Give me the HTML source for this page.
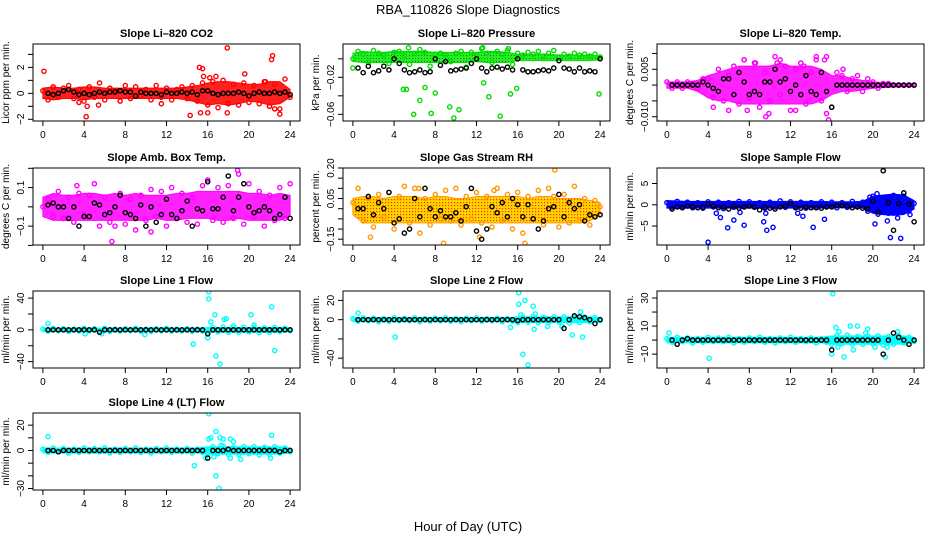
<!DOCTYPE html>
<html><head><meta charset="utf-8">
<style>
html,body{margin:0;padding:0;background:#fff;}
svg{display:block;font-family:"Liberation Sans",sans-serif;}
</style></head>
<body>
<svg id="chart" width="936" height="540" viewBox="0 0 936 540" xmlns="http://www.w3.org/2000/svg">
<defs>
<pattern id="pgreen" width="3" height="3" patternUnits="userSpaceOnUse"><rect width="3" height="3" fill="#22ee22"/><rect x="1" y="1" width="1" height="1" fill="#227722"/></pattern>
<pattern id="pyellow" width="3" height="3" patternUnits="userSpaceOnUse"><rect width="3" height="3" fill="#ffd400"/><rect x="1" y="1" width="1.2" height="1.2" fill="#ff3300"/></pattern>
</defs>
<text x="468" y="14" text-anchor="middle" font-size="13">RBA_110826  Slope Diagnostics</text>
<text x="468" y="531" text-anchor="middle" font-size="13">Hour of Day (UTC)</text>
</svg>
<script>
// ---------- data ----------
const hourTicks = [0,4,8,12,16,20,24];
const bandHours = [0,1,2,3,4,5,6,7,8,9,10,11,12,13,14,15,16,17,18,19,20,21,22,23,24];

const p1Black = [0,-0.1,0,0.2,0.3,0.1,-0.1,0,-0.1,0,0.1,0,0.1,0.1,0.2,0.1,0.1,-0.2,0.1,0,0,0,-0.1,0.1,0,0,0.1,0,0.1,-0.1,0.2,0.2,0,-0.1,0,0,0,0.1,0,-0.2,0,0.1,0,0,0.1,0,0.1,-0.1];
const p1Col = [0.2,-0.5,0.5,-0.3,0.4,0.6,-0.4,0.3,-0.6,0.5,-0.3,0.8,-0.5,0.4,0.2,-0.6,0.6,-0.4,0.5,-0.2,0.3,-0.5,0.6,-0.3,0.4,-0.5,0.3,0.5,-0.4,0.6,-0.6,0.8,-0.9,0.9,-1.1,1.0,-0.8,0.7,-0.9,0.8,-0.7,0.6,-0.8,0.9,-1.0,0.7,-1.2,1.1,-0.3];
const p1Hi = [0.4,0.5,0.4,0.4,0.5,0.5,0.4,0.4,0.4,0.4,0.4,0.4,0.4,0.4,0.5,0.6,0.8,0.9,0.9,0.8,0.7,0.7,0.9,0.9,0.3];
const p1Lo = [-0.4,-0.5,-0.4,-0.4,-0.5,-0.4,-0.4,-0.4,-0.4,-0.4,-0.4,-0.4,-0.4,-0.4,-0.5,-0.7,-0.9,-0.8,-0.9,-0.8,-0.6,-0.7,-0.9,-0.8,-0.3];
const p1OutX = [0.1,4.2,4.3,14.3,15.2,15.5,15.6,17.9,22.3,22.2,23,17.9,16,15.3,19.6,16.2,16.8,21.6,3.5,5.4,11.5,22,22.5];
const p1OutY = [1.7,-1.8,-1,-1.7,2,1.9,1.3,3.5,2.9,2.6,-1.6,-1.5,-1.5,-1.5,1.5,1.2,1.3,0.9,-0.7,-0.9,-0.8,-1,-1.2];

const p2Black = [-0.01,-0.015,-0.008,-0.015,-0.013,-0.008,-0.012,0,-0.005,-0.012,-0.015,-0.014,-0.012,-0.015,-0.014,0,-0.007,-0.003,-0.013,-0.012,-0.011,-0.01,-0.005,0,-0.01,-0.014,-0.01,-0.009,-0.011,-0.009,-0.012,0,-0.012,-0.014,-0.014,-0.013,-0.012,-0.013,-0.01,-0.002,-0.01,-0.011,-0.014,-0.01,-0.014,-0.013,-0.014,0];
const p2Col = [0,0.008,0.005,-0.004,0.009,0.006,0.004,-0.005,0.007,0.008,0.003,-0.006,0.006,0.01,0.007,-0.008,0.005,0.006,0.004,-0.003,0.006,0.008,-0.009,0.007,0.004,0.011,0.006,-0.004,0.008,0.005,0.009,-0.006,0.006,0.004,0.007,0.005,0.008,0.003,0.006,0.009,0.002,0.005,0.003,0.006,0.004,0.005,0.003,0.005,0.002];
const p2Hi = [0.006,0.008,0.007,0.007,0.008,0.008,0.008,0.008,0.007,0.007,0.007,0.007,0.007,0.008,0.008,0.007,0.005,0.005,0.005,0.005,0.004,0.004,0.004,0.004,0.003];
const p2Lo = [-0.003,-0.004,-0.004,-0.004,-0.004,-0.004,-0.004,-0.004,-0.004,-0.004,-0.004,-0.004,-0.003,-0.004,-0.004,-0.004,-0.002,-0.002,-0.002,-0.002,-0.002,-0.002,-0.002,-0.002,-0.001];
const p2OutX = [4.9,5.2,6.5,5.9,7,8,7.6,9.4,9.8,10.3,12.7,13.2,14.3,15.3,15.9,23.9,0,5.4,12.6,15.1];
const p2OutY = [-0.033,-0.033,-0.045,-0.06,-0.031,-0.037,-0.059,-0.052,-0.064,-0.055,-0.026,-0.041,-0.062,-0.038,-0.032,-0.038,-0.01,0.012,0.012,0.011];

const p3Black = [0,0,0,0,0,0,0.001,0,-0.001,-0.002,0.002,0.002,-0.003,0.004,0.001,-0.003,-0.002,-0.003,0.001,0.001,0.005,0.001,0.002,-0.002,0,-0.003,0.003,-0.002,-0.003,0.004,-0.002,-0.007,0,0,0,0,0,0,0,0,0,0,0,0,0,0,0,0];
const p3Col = [0.001,-0.001,0.001,-0.001,0.001,0.0005,-0.001,0.002,0.002,-0.004,0.005,-0.005,0.003,0.006,-0.006,0.008,-0.004,0.007,-0.007,0.004,-0.005,0.009,-0.003,0.006,-0.008,0.005,0.007,-0.006,0.004,0.008,-0.005,0.009,-0.007,0.004,0.003,-0.002,0.002,0.003,-0.002,0.002,0.001,-0.001,0.0005,0.0005,0,0,0,0,0];
const p3Hi = [0.001,0.001,0.001,0.0015,0.003,0.004,0.005,0.006,0.006,0.006,0.006,0.007,0.006,0.006,0.006,0.005,0.003,0.003,0.002,0.0015,0.001,0.0008,0.0006,0.0005,0.0004];
const p3Lo = [-0.001,-0.001,-0.001,-0.002,-0.004,-0.005,-0.005,-0.006,-0.006,-0.006,-0.006,-0.006,-0.006,-0.006,-0.006,-0.005,-0.003,-0.002,-0.002,-0.0015,-0.001,-0.0008,-0.0006,-0.0005,-0.0004];
const p3OutX = [7.5,8.6,10.7,11,14.5,15.3,13.3,15.5,15.7,9.6,9.9,4.5,6,7.8,12.5,17.1];
const p3OutY = [0.008,0.007,0.007,0.008,0.009,0.008,0.006,-0.009,-0.011,-0.01,-0.009,-0.007,-0.008,-0.008,-0.008,0.005];

const p4Black = [0.01,0.02,0,0,-0.06,0,-0.1,-0.05,-0.05,0.02,0.01,-0.04,-0.03,0,0.06,-0.03,-0.04,-0.06,0.01,-0.1,0,-0.08,-0.04,0.04,-0.04,-0.06,-0.02,0.03,-0.1,-0.01,-0.02,0.13,-0.01,-0.01,0.05,0.16,-0.02,0.05,0.12,0,-0.03,-0.02,0,-0.02,-0.06,-0.04,0.05,-0.06];
const p4Col = [0,0.04,-0.05,0.08,-0.06,0.05,-0.08,0.07,-0.04,0.06,0.12,-0.1,0.05,-0.08,-0.1,0.07,-0.09,0.04,-0.12,0.06,-0.07,0.09,-0.05,0.08,-0.1,0.1,-0.06,0.07,-0.08,0.05,-0.09,0.11,0.14,-0.07,0.1,-0.08,0.11,-0.06,0.17,-0.09,0.12,-0.05,0.08,-0.1,0.06,-0.07,0.1,-0.06,0.12];
const p4Hi = [0.05,0.07,0.06,0.06,0.07,0.07,0.06,0.07,0.06,0.07,0.06,0.06,0.06,0.07,0.07,0.08,0.08,0.08,0.08,0.08,0.07,0.07,0.06,0.07,0.06];
const p4Lo = [-0.05,-0.07,-0.07,-0.07,-0.07,-0.07,-0.07,-0.07,-0.07,-0.07,-0.07,-0.06,-0.07,-0.07,-0.06,-0.06,-0.06,-0.07,-0.07,-0.06,-0.07,-0.07,-0.07,-0.07,-0.05];
const p4OutX = [6.7,18.9,10.5,3.3];
const p4OutY = [-0.18,0.19,-0.13,0.11];

const p5Black = [0,0,0.06,-0.03,0.03,0,0.08,-0.07,-0.05,-0.12,-0.1,0.05,-0.04,0.1,0,-0.04,-0.01,-0.04,-0.04,-0.02,-0.06,0.01,0.1,-0.11,-0.15,-0.1,0.01,-0.02,0.03,-0.04,0.05,0.02,-0.04,0.02,-0.05,-0.1,-0.06,0,0.01,0.07,-0.04,0.03,0,0.02,-0.06,-0.03,-0.04,-0.03];
const p5Col = [0.03,0.1,-0.06,0.05,-0.09,0.07,-0.04,0.08,-0.1,0.06,0.11,-0.07,0.1,-0.12,0.05,-0.08,0.07,-0.05,0.09,-0.06,0.1,-0.08,0.06,-0.05,0.08,-0.07,0.06,-0.09,0.1,-0.06,0.07,-0.1,0.08,-0.12,0.06,-0.05,0.09,-0.08,0.1,0.06,-0.09,0.07,-0.07,0.11,-0.06,0.05,-0.08,0.04,0.01];
const p5Hi = [0.05,0.06,0.06,0.05,0.06,0.06,0.06,0.05,0.06,0.06,0.05,0.05,0.06,0.06,0.06,0.06,0.06,0.05,0.06,0.06,0.05,0.05,0.05,0.04,0.03];
const p5Lo = [-0.03,-0.07,-0.07,-0.07,-0.07,-0.07,-0.07,-0.07,-0.07,-0.07,-0.07,-0.07,-0.07,-0.07,-0.07,-0.07,-0.07,-0.07,-0.07,-0.07,-0.07,-0.07,-0.07,-0.06,-0.03];
const p5OutX = [1.7,8.8,16.7,19.6,6.4,13.7,12.3];
const p5OutY = [-0.14,-0.17,-0.17,0.19,0.1,0.09,-0.14];

const p6Black = [-1,-0.5,-0.7,-0.3,-0.5,-0.7,-0.6,0.2,-0.3,-0.7,-0.5,-1,-0.3,-0.8,-0.5,-0.3,-0.5,-1.2,-0.6,-0.8,-1,-0.5,-0.3,0.3,-0.7,-0.8,-0.5,-0.7,-0.7,-0.8,-0.5,-0.5,-0.2,-0.2,-0.3,-0.7,-0.5,-0.8,-1,0.8,-1.7,8,0.5,-6,0.3,2.8,0.1,-4];
const p6Col = [0.5,-0.6,0.8,-0.4,0.6,-0.7,0.5,-0.8,0.7,-0.5,0.6,-0.9,0.5,-0.6,0.8,-0.5,0.7,-0.6,0.5,-0.8,0.6,-0.5,0.9,-0.6,0.7,-0.5,0.6,-0.8,0.5,-0.6,0.7,-0.5,0.6,-0.7,0.5,-0.6,0.8,-0.5,0.6,-1.5,2,-2.2,1.5,-2,2.2,-1.8,2,-1.5,0.3];
const p6Hi = [1,0.9,0.8,0.8,0.8,0.8,0.8,0.8,0.8,0.8,0.8,0.8,0.8,0.8,0.8,0.8,0.7,0.7,0.7,0.8,2,2.3,2.5,2.3,1];
const p6Lo = [-0.8,-0.9,-0.8,-0.8,-0.8,-0.8,-0.8,-0.8,-0.8,-0.8,-0.8,-0.8,-0.8,-0.8,-0.8,-0.8,-0.7,-0.7,-0.7,-0.8,-2,-2.3,-2.5,-2.3,-1];
const p6OutX = [4,4.8,5.2,5.9,6.5,7.5,7.1,9.4,9.7,9.6,10.3,12.7,13.2,14.2,15.3,20.2,20.4,21.4,21.7,22.4,22.7,23.6,19.7];
const p6OutY = [-8.8,-2,-3,-5.4,-3.6,-4.8,-1.8,-4,-6,-2,-5.3,-2,-2.7,-5.3,-3.4,-4.5,2.6,-3.8,-7.7,-3.1,-7.9,-2.3,1.8];

const lineCol = [1,-1.5,2,-1,1.5,-2,1,-1.5,2,-1,1.5,-1,2,-2,1,-1.5,1.5,-1,2,-1.5,1,-2,1.5,-1,2,-1.5,1,-1,1.5,-2,1,-1.5,-3,3,-2.5,3.5,-3,2.5,-3,3,-2.5,3,-3.5,2.5,-3,3,-2,2,-1];
const lineHi = [2,2,2,2,2,2,2,2,2,2,2,2,2,2,2,2,3,3,3,3,3,3,3,3,2];
const lineLo = [-2,-2,-2,-2,-2,-2,-2,-2,-2,-2,-2,-2,-2,-2,-2,-2,-3,-3,-3,-3,-3,-3,-3,-3,-2];

const p7Black = [0,0,0,0,0,0,0,0,0,0,-3,0,0,0,0,0,0,0,0,0,0,0,0,0,0,0,0,0,0,0,0,-5,0,0,0,0,0,0,0,0,0,0,0,0,0,0,0,0];
const p7OutX = [0.5,4.1,5.7,9.9,14.6,16.1,16.1,16.3,16,16.7,16.8,17.2,17.6,17.8,18.5,20.2,20.5,22.2,22.5];
const p7OutY = [8,-5,-5,-6,-18,48,39,10,-10,19,-33,-43,13,14,5,19,6,29,-26];

const p8Black = [0,0,0,0,0,0,0,0,0,0,0,0,0,0,0,0,0,0,0,0,0,0,0,0,0,0,0,0,0,0,0,-1,0,0,0,0,0,0,0,0,-9,0,4,3,2,0,-4,0];
const p8OutX = [0.5,4.1,16.1,16.1,16.3,16.7,16.5,17,17.5,17.7,17.6,15.3,18.9,20.3,21.3,22.3,22.1];
const p8OutY = [7,-18,28,16,5,20,-36,-47,14,6,-10,-8,-7,-7,-16,-18,8];

const p9Black = [0,-3,0,1,0,0,0,0,0,0,0,0,0,0,0,0,0,0,0,0,0,0,0,0,0,0,0,0,0,0,0,-7,0,0,0,0,0,0,0,0,0,-10,0,5,2,0,-3,0];
const p9OutX = [0.2,4.1,16.1,16.4,16.7,16.6,16,17.2,17.8,18.5,18.1,19.5,20.2,21.2,21.4,22.4,19.3];
const p9OutY = [5,-13,33,9,6,-5,-10,-12,10,10,-7,8,-5,-12,-5,6,5];

const p10Black = [0,0,-1,0,0,0,0,0,0,0,0,0,0,0,0,0,0,0,0,0,0,0,0,0,0,0,0,0,0,0,0,-6,0,0,0,1,0,0,0,0,0,0,0,0,0,-1,0,0];
const p10OutX = [0.5,14.7,16.1,16.1,16.3,16.8,16.6,16.8,17.1,17.2,17.5,17.3,18.2,18.2,18.5,19.2,21,22.1,22.2,15.8];
const p10OutY = [11,-12,29,9,10,15,-5,-20,-30,10,9,4,-6,9,7,-7,-1,-6,12,-6];

// ---------- layout ----------
const NS = "http://www.w3.org/2000/svg";
const svg = document.getElementById('chart');
function el(tag, attrs, parent){ const e=document.createElementNS(NS,tag); for(const k in attrs) e.setAttribute(k,attrs[k]); (parent||svg).appendChild(e); return e; }

const colL=[33,343,657], rowT=[44,168,291,413], W=267, H=77;
const R=2.1, SW=1.4;
const panels = [
 {name:'li820-co2',title:'Slope Li\u2013820 CO2',ylab:'Licor ppm per min.',c:0,r:0,top:3.8,bot:-2.13,ticks:[-2,-1,0,1,2,3],labels:{'-2':'\u22122','0':'0','2':'2'},color:'#ff0000',band:'#ff2020',black:p1Black,col:p1Col,hi:p1Hi,lo:p1Lo,ox:p1OutX,oy:p1OutY},
 {name:'li820-pressure',title:'Slope Li\u2013820 Pressure',ylab:'kPa per min.',c:1,r:0,top:0.016,bot:-0.0672,ticks:[0,-0.02,-0.04,-0.06],labels:{'-0.02':'\u22120.02','-0.06':'\u22120.06'},color:'#00dd00',band:'url(#pgreen)',black:p2Black,col:p2Col,hi:p2Hi,lo:p2Lo,ox:p2OutX,oy:p2OutY},
 {name:'li820-temp',title:'Slope Li\u2013820 Temp.',ylab:'degrees C per min.',c:2,r:0,top:0.013,bot:-0.01136,ticks:[0.01,0.005,0,-0.005,-0.01],labels:{'0.005':'0.005','-0.01':'\u22120.010'},color:'#ff00ff',band:'#ff22ff',black:p3Black,col:p3Col,hi:p3Hi,lo:p3Lo,ox:p3OutX,oy:p3OutY},
 {name:'amb-box-temp',title:'Slope Amb. Box Temp.',ylab:'degrees C per min.',c:0,r:1,top:0.2016,bot:-0.198,ticks:[0.2,0.1,0,-0.1,-0.2],labels:{'0.1':'0.1','-0.1':'\u22120.1'},color:'#ff00ff',band:'#ff22ff',black:p4Black,col:p4Col,hi:p4Hi,lo:p4Lo,ox:p4OutX,oy:p4OutY},
 {name:'gas-stream-rh',title:'Slope Gas Stream RH',ylab:'percent per min.',c:1,r:1,top:0.2,bot:-0.1785,ticks:[0.2,0.15,0.1,0.05,0,-0.05,-0.1,-0.15],labels:{'0.2':'0.20','0.05':'0.05','-0.15':'\u22120.15'},color:'#ff9900',band:'url(#pyellow)',black:p5Black,col:p5Col,hi:p5Hi,lo:p5Lo,ox:p5OutX,oy:p5OutY},
 {name:'sample-flow',title:'Slope Sample Flow',ylab:'ml/min per min.',c:2,r:1,top:8.64,bot:-9.45,ticks:[5,0,-5],labels:{'5':'5','0':'0','-5':'\u22125'},color:'#0000ff',band:'#0000ff',black:p6Black,col:p6Col,hi:p6Hi,lo:p6Lo,ox:p6OutX,oy:p6OutY},
 {name:'line1-flow',title:'Slope Line 1 Flow',ylab:'ml/min per min.',c:0,r:2,top:48.9,bot:-48,ticks:[40,20,0,-20,-40],labels:{'40':'40','0':'0','-40':'\u221240'},color:'#00ffff',band:'#00ffff',black:p7Black,col:lineCol,hi:lineHi,lo:lineLo,ox:p7OutX,oy:p7OutY},
 {name:'line2-flow',title:'Slope Line 2 Flow',ylab:'ml/min per min.',c:1,r:2,top:29.8,bot:-50.2,ticks:[20,0,-20,-40],labels:{'20':'20','0':'0','-40':'\u221240'},color:'#00ffff',band:'#00ffff',black:p8Black,col:lineCol,hi:lineHi,lo:lineLo,ox:p8OutX,oy:p8OutY},
 {name:'line3-flow',title:'Slope Line 3 Flow',ylab:'ml/min per min.',c:2,r:2,top:35,bot:-19.9,ticks:[30,20,10,0,-10],labels:{'30':'30','10':'10','-10':'\u221210'},color:'#00ffff',band:'#00ffff',black:p9Black,col:lineCol,hi:lineHi,lo:lineLo,ox:p9OutX,oy:p9OutY},
 {name:'line4-flow',title:'Slope Line 4 (LT) Flow',ylab:'ml/min per min.',c:0,r:3,top:29.6,bot:-31.2,ticks:[20,10,0,-10,-20,-30],labels:{'20':'20','0':'0','-30':'\u221230'},color:'#00ffff',band:'#00ffff',black:p10Black,col:lineCol,hi:lineHi,lo:lineLo,ox:p10OutX,oy:p10OutY}
];

panels.forEach(p=>{
  const L=colL[p.c], T=rowT[p.r];
  const xs = h => L + (h+0.96)/25.92*W;
  const ys = v => T + (p.top - v)/(p.top - p.bot)*H;
  const g = el('g',{});
  
  
  const clipId='clip-'+p.name;
  const cp=el('clipPath',{id:clipId},g); el('rect',{x:L,y:T,width:W,height:H},cp);
  const plot=el('g',{'clip-path':'url(#'+clipId+')'},g);
  let pts=bandHours.map((h,i)=>xs(h)+','+ys(p.hi[i]));
  pts=pts.concat(bandHours.slice().reverse().map((h,j)=>{const i=bandHours.length-1-j;return xs(h)+','+ys(p.lo[i]);}));
  const band=el('polygon',{points:pts.join(' '),fill:p.band,stroke:p.color,'stroke-width':1},plot);
  
  
  p.col.forEach((v,i)=>{
    const c=el('circle',{cx:xs(i*0.5),cy:ys(v),r:R,fill:'none',stroke:p.color,'stroke-width':SW},plot);
    
    
  });
  p.ox.forEach((h,i)=>{
    const c=el('circle',{cx:xs(h),cy:ys(p.oy[i]),r:R,fill:'none',stroke:p.color,'stroke-width':SW},plot);
    
    
  });
  p.black.forEach((v,i)=>{
    const c=el('circle',{cx:xs((i+1)*0.5),cy:ys(v),r:R,fill:'none',stroke:'#000','stroke-width':SW},plot);
    
    
  });
  const box=el('rect',{x:L,y:T,width:W,height:H,fill:'none',stroke:'#000','stroke-width':1},g);
  
  
  const t=el('text',{x:L+W/2,y:T-7,'text-anchor':'middle','font-size':11,'font-weight':'bold'},g);
  t.textContent=p.title;
  
  
  hourTicks.forEach(h=>{
    el('line',{x1:xs(h),x2:xs(h),y1:T+H,y2:T+H+5,stroke:'#000'},g);
    const lt=el('text',{x:xs(h),y:T+H+17,'text-anchor':'middle','font-size':10},g);
    lt.textContent=h;
    
    
  });
  p.ticks.forEach(v=>{
    el('line',{x1:L-5,x2:L,y1:ys(v),y2:ys(v),stroke:'#000'},g);
    const key=String(v);
    if(p.labels[key]!==undefined){
      const yl=el('text',{x:L-9,y:ys(v),'text-anchor':'middle','font-size':10,transform:'rotate(-90 '+(L-9)+' '+ys(v)+')'},g);
      yl.textContent=p.labels[key];
      
      
    }
  });
  const yt=el('text',{x:L-24,y:T+H/2,'text-anchor':'middle','font-size':10,transform:'rotate(-90 '+(L-24)+' '+(T+H/2)+')'},g);
  yt.textContent=p.ylab;
  
  
});
</script>
</body></html>
